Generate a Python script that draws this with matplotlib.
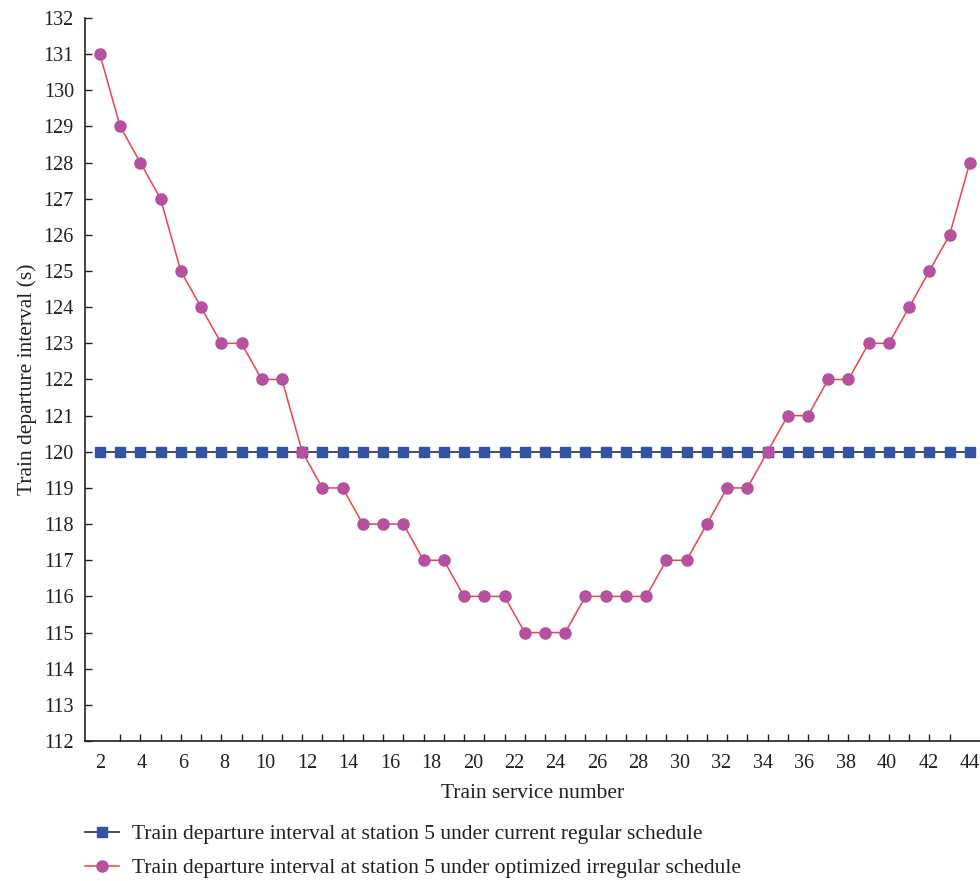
import numpy as np
import matplotlib.pyplot as plt

# departure intervals (s) for each train service
regular = [120] * 44
irregular = [131, 129, 128, 127, 125, 124, 123, 123, 122, 122,
             120, 119, 119, 118, 118, 118, 117, 117, 116, 116,
             116, 115, 115, 115, 116, 116, 116, 116, 117, 117,
             118, 119, 119, 120, 121, 121, 122, 122, 123, 123,
             124, 125, 126, 128]
tick_labels = list(range(2, 46, 2))
y_ticks = list(range(112, 133))

plt.rcParams['font.family'] = ['Liberation Serif', 'DejaVu Serif']
txt = '#231f20'

fig = plt.figure(figsize=(9.8, 8.81), dpi=100)
ax = fig.add_axes([0.0867, 0.1589, 0.9133, 0.8207])

# services are spread evenly over the labelled range
x = np.linspace(tick_labels[0], tick_labels[-1], len(irregular))

ax.plot(x, regular, color='#4d4d4d', lw=1.4, marker='s', ms=6.5,
        mfc='#3353a3', mec='#3353a3', zorder=3,
        label='Train departure interval at station 5 under current regular schedule')
ax.plot(x, irregular, color='#f04048', lw=1.1, marker='o', ms=8,
        mfc='#b5519e', mec='#b5519e', zorder=4,
        label='Train departure interval at station 5 under optimized irregular schedule')

ax.set_xlim(1.28, 44.49)
ax.set_ylim(112, 132)
ax.set_yticks(y_ticks)
ax.set_xticks(tick_labels)
ax.set_xticks(x, minor=True)
ax.tick_params(axis='x', which='major', length=0, labelsize=14.5, pad=9, colors=txt)
ax.tick_params(axis='x', which='minor', direction='in', length=5, width=1, color=txt)
ax.tick_params(axis='y', direction='in', length=5, width=1, labelsize=14.5, pad=8,
               colors=txt)

for s in ['top', 'right']:
    ax.spines[s].set_visible(False)
for s in ['left', 'bottom']:
    ax.spines[s].set_color(txt)
    ax.spines[s].set_linewidth(1.2)

ax.set_xlabel('Train service number', fontsize=15.5, color=txt, labelpad=8)
ax.set_ylabel('Train departure interval (s)', fontsize=15.5, color=txt, labelpad=5)

fig.legend(loc='upper left', bbox_to_anchor=(0.0776, 0.0745), frameon=False,
           fontsize=15.5, handlelength=1.6, handletextpad=0.6, labelspacing=0.65,
           borderaxespad=0, labelcolor=txt)

fig.savefig('out.png', dpi=100)
